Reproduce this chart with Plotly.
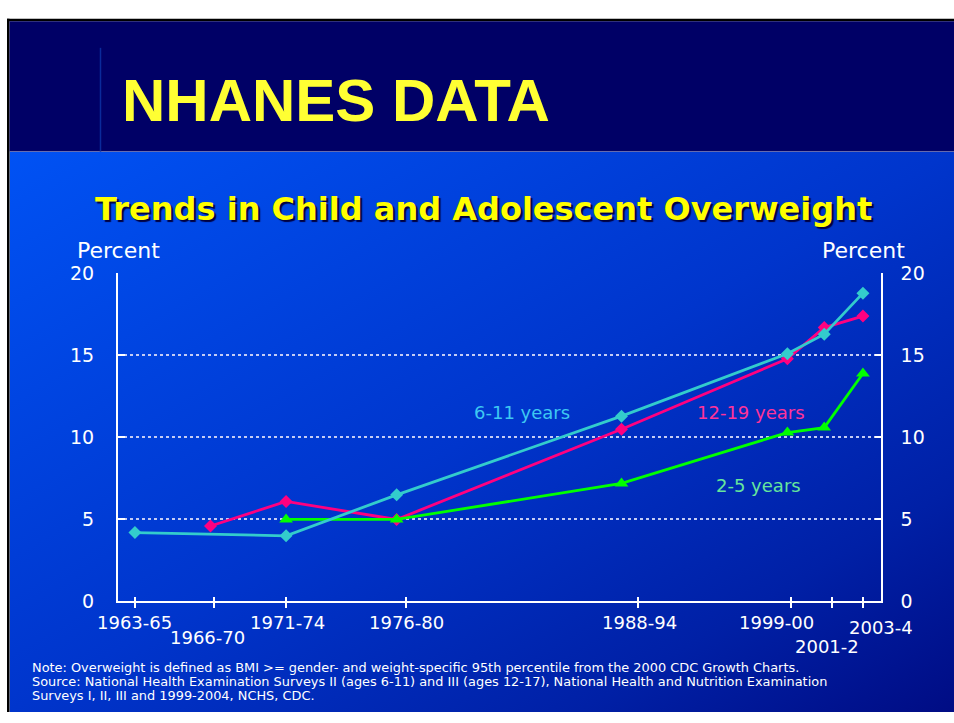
import base64
import plotly.graph_objects as go

# ---- data -------------------------------------------------------------
periods = ["1963-65", "1966-70", "1971-74", "1976-80",
           "1988-94", "1999-00", "2001-2", "2003-4"]
# survey position on the time axis (approximate centre of each survey)
survey_year = [1964.0, 1968.1, 1972.2, 1978.2, 1990.4, 1999.4, 2001.4, 2003.5]
# tick positions for the survey labels
tick_year = [1964.0, 1968.3, 1972.2, 1978.7, 1991.3, 1999.6, 2001.8, 2003.5]

age_6_11 = [4.2, None, 4.0, 6.5, 11.3, 15.1, 16.3, 18.8]
age_12_19 = [None, 4.6, 6.1, 5.0, 10.5, 14.8, 16.7, 17.4]
age_2_5 = [None, None, 5.0, 5.0, 7.2, 10.3, 10.6, 13.9]

y_ticks = [0, 5, 10, 15, 20]

footnote_lines = [
    "Note: Overweight is defined as BMI >= gender- and weight-specific 95th "
    "percentile from the 2000 CDC Growth Charts.",
    "Source: National Health Examination Surveys II (ages 6-11) and III "
    "(ages 12-17), National Health and Nutrition Examination",
    "Surveys I, II, III and 1999-2004, NCHS, CDC.",
]

# ---- page geometry / styling -----------------------------------------
W, H = 954, 723
def px(x):
    return x / W
def py(y):
    return 1 - y / H

AX_FONT = "DejaVu Sans, Verdana, sans-serif"
CYAN, PINK, GREEN = "#33cccc", "#ff0080", "#00ff00"
X_RANGE = [1963.08, 2004.48]
Y_RANGE = [0, 20]

# label nudges (pixels) for the staggered survey labels
label_nudge = {
    "1963-65": (0, -21), "1966-70": (-7, -36), "1971-74": (1, -21),
    "1976-80": (1, -21), "1988-94": (1, -21), "1999-00": (-15, -21),
    "2001-2": (-5, -45), "2003-4": (18, -26),
}

fig = go.Figure()

# (name, values, colour, symbol, size, x-axis, y-axis)
series = [
    ("12-19 years", age_12_19, PINK, "diamond", 10, "x", "y"),
    ("6-11 years", age_6_11, CYAN, "diamond", 10, "x2", "y"),
    ("2-5 years", age_2_5, GREEN, "triangle-up", 12, "x", "y2"),
]
for name, vals, col, sym, size, xa, ya in series:
    fig.add_trace(go.Scatter(
        x=survey_year, y=vals, name=name, mode="lines+markers",
        connectgaps=True, xaxis=xa, yaxis=ya,
        line=dict(color=col, width=2.8),
        marker=dict(symbol=sym, size=size, color=col, line=dict(width=0)),
        hoverinfo="skip", showlegend=False,
    ))

# ---- slide background -------------------------------------------------
grad_svg = (
    '<svg xmlns="http://www.w3.org/2000/svg" width="945" height="578" '
    'viewBox="0 0 945 578" preserveAspectRatio="none">'
    '<defs><linearGradient id="g" x1="0" y1="0" x2="1" y2="1">'
    '<stop offset="0" stop-color="#0052f4"/>'
    '<stop offset="0.5" stop-color="#0035cc"/>'
    '<stop offset="0.8" stop-color="#0020a6"/>'
    '<stop offset="1" stop-color="#000c84"/>'
    '</linearGradient></defs>'
    '<rect width="945" height="578" fill="url(#g)"/></svg>'
)
grad_uri = "data:image/svg+xml;base64," + base64.b64encode(grad_svg.encode()).decode()

fig.add_layout_image(dict(
    source=grad_uri, xref="paper", yref="paper",
    x=px(9.5), y=py(145), sizex=px(W - 9.5), sizey=(H - 145) / H,
    xanchor="left", yanchor="top", sizing="stretch", layer="below",
))

shapes = [
    # black frame (top and left)
    dict(type="rect", xref="paper", yref="paper", x0=px(7), x1=1,
         y0=py(10.5), y1=py(8), fillcolor="#000000", line_width=0, layer="below"),
    dict(type="rect", xref="paper", yref="paper", x0=px(7), x1=px(9.5),
         y0=0, y1=py(8), fillcolor="#000000", line_width=0, layer="below"),
    # navy header band
    dict(type="rect", xref="paper", yref="paper", x0=px(9.5), x1=1,
         y0=py(145), y1=py(10.5), fillcolor="#000066", line_width=0, layer="below"),
    # thin rule in the header
    dict(type="line", xref="paper", yref="paper", x0=px(100.5), x1=px(100.5),
         y0=py(145), y1=py(38), line=dict(color="#0a2a9a", width=1.5), layer="below"),
]

# ---- axes -------------------------------------------------------------
dom_x = [px(118), px(881)]
dom_y = [py(609), py(270.7)]
tick_font = dict(family=AX_FONT, size=19, color="#ffffff")

fig.update_layout(
    width=W, height=H,
    margin=dict(l=0, r=0, t=0, b=0),
    paper_bgcolor="#ffffff",
    plot_bgcolor="rgba(0,0,0,0)",
    shapes=shapes,
    xaxis=dict(
        domain=dom_x, range=X_RANGE, tickmode="array", tickvals=tick_year,
        showticklabels=False, ticks="outside", ticklen=5, tickwidth=2,
        tickcolor="#ffffff", showline=True, linecolor="#ffffff", linewidth=2,
        showgrid=False, zeroline=False, fixedrange=True,
    ),
    xaxis2=dict(
        domain=dom_x, range=X_RANGE, overlaying="x", anchor="y",
        tickmode="array", tickvals=tick_year, showticklabels=False,
        ticks="inside", ticklen=4, tickwidth=2, tickcolor="#ffffff",
        showline=False, showgrid=False, zeroline=False, side="bottom",
    ),
    yaxis=dict(
        domain=dom_y, range=Y_RANGE, tickmode="array", tickvals=y_ticks,
        ticks="inside", ticklen=7, tickwidth=2, tickcolor="#ffffff",
        showline=True, linecolor="#ffffff", linewidth=2,
        showgrid=True, gridcolor="#c4ccf4", griddash="dot", gridwidth=1.6,
        zeroline=False, tickfont=tick_font, ticklabelstandoff=18,
    ),
    yaxis2=dict(
        domain=dom_y, range=Y_RANGE, overlaying="y", side="right", anchor="x",
        tickmode="array", tickvals=y_ticks,
        ticks="inside", ticklen=6, tickwidth=1.5, tickcolor="#ffffff",
        showline=True, linecolor="#ffffff", linewidth=1.5,
        showgrid=False, zeroline=False, tickfont=tick_font,
        ticklabelstandoff=14,
    ),
)

annotations = []
# slide heading
annotations.append(dict(
    text="<b>NHANES DATA</b>", xref="paper", yref="paper",
    x=px(120), y=py(92), xanchor="left", yanchor="middle", showarrow=False,
    font=dict(family="Liberation Sans, Arial, sans-serif", size=60, color="#ffff33"),
))
# chart title
annotations.append(dict(
    text="<b>Trends in Child and Adolescent Overweight</b>", xref="paper", yref="paper",
    x=px(484), y=py(204), xanchor="center", yanchor="middle", showarrow=False,
    font=dict(family=AX_FONT, size=32, color="#ffff00",
              shadow="2px 2px 1px #000040"),
))
# axis titles
for xc in (118, 863):
    annotations.append(dict(
        text="Percent", xref="paper", yref="paper", x=px(xc), y=py(247),
        xanchor="center", yanchor="middle", showarrow=False,
        font=dict(family=AX_FONT, size=22, color="#ffffff"),
    ))
# survey labels under the axis
for lab, ty in zip(periods, tick_year):
    dx, dy = label_nudge[lab]
    annotations.append(dict(
        text=lab, xref="x", yref="paper", x=ty, y=dom_y[0],
        xshift=dx, yshift=dy, xanchor="center", yanchor="middle",
        showarrow=False, font=dict(family=AX_FONT, size=18, color="#ffffff"),
    ))
# series labels
for text, xv, yv, col in [("6-11 years", 1985.0, 11.5, "#3ec8f2"),
                          ("12-19 years", 1997.4, 11.5, "#ff3399"),
                          ("2-5 years", 1997.85, 7.1, "#66e69c")]:
    annotations.append(dict(
        text=text, xref="x", yref="y", x=xv, y=yv, xanchor="center",
        yanchor="middle", showarrow=False,
        font=dict(family=AX_FONT, size=18, color=col),
    ))
# footnote, one line per annotation
for i, line in enumerate(footnote_lines):
    annotations.append(dict(
        text=line, xref="paper", yref="paper", x=px(30), y=py(677 + 14.5 * i),
        xanchor="left", yanchor="middle", align="left", showarrow=False,
        font=dict(family=AX_FONT, size=12.9, color="#ffffff"),
    ))
fig.update_layout(annotations=annotations)

fig.write_html("out.html")
